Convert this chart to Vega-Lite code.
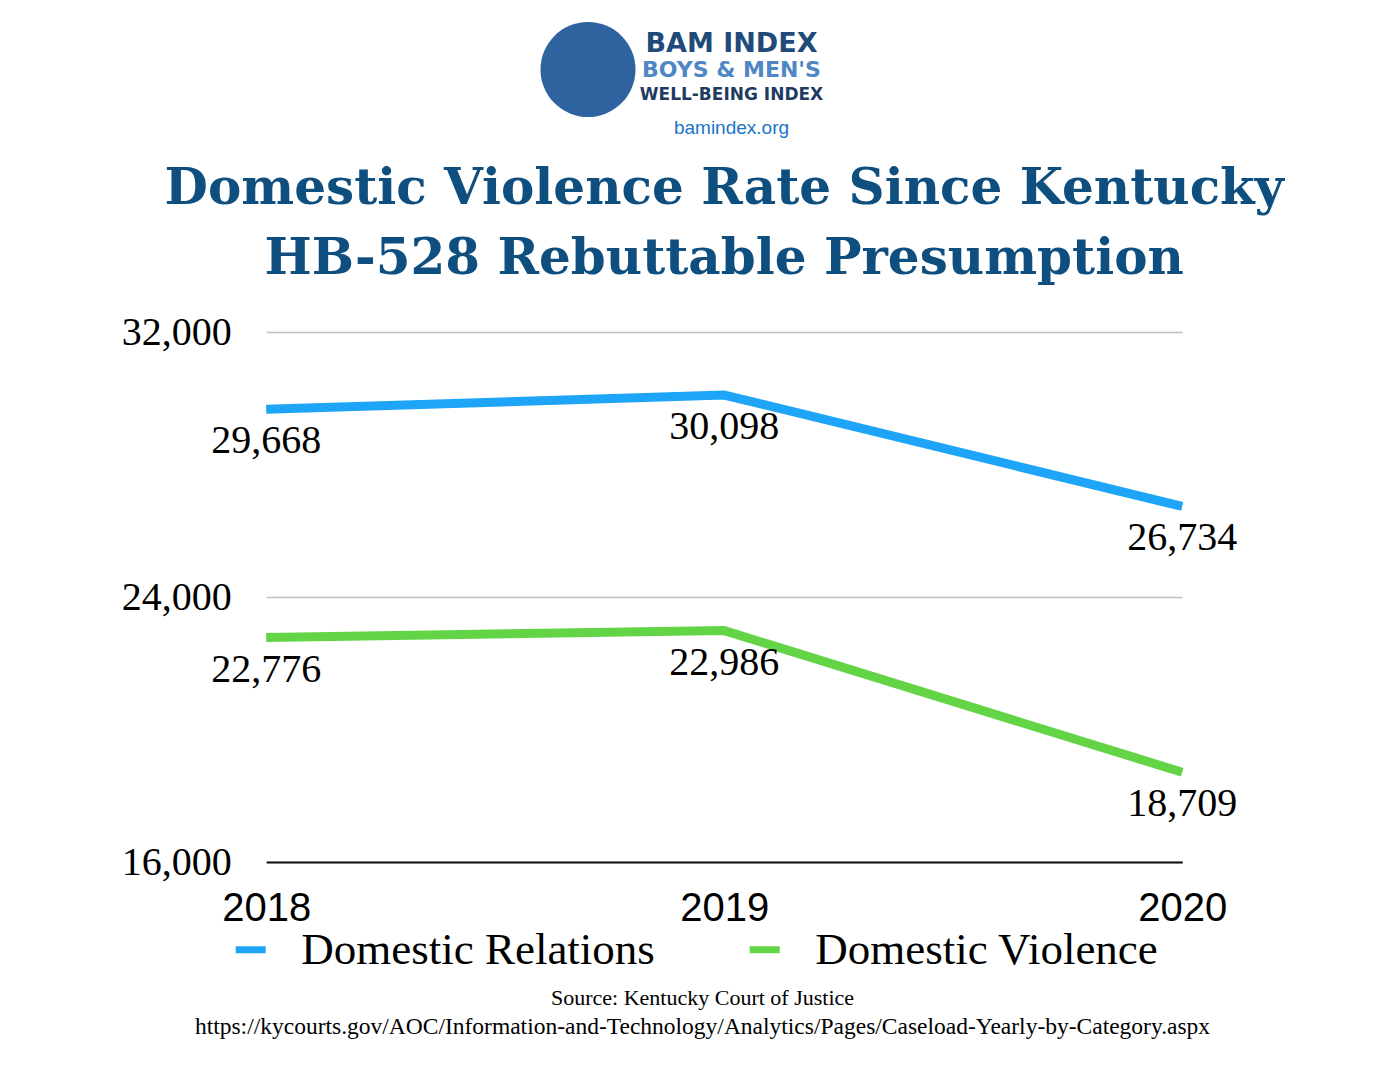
{
  "$schema": "https://vega.github.io/schema/vega-lite/v6.json",
  "background": "white",
  "padding": {"left": 121, "top": 22, "right": 5, "bottom": 5},
  "title": {
    "text": "Source: Kentucky Court of Justice",
    "subtitle": "https://kycourts.gov/AOC/Information-and-Technology/Analytics/Pages/Caseload-Yearly-by-Category.aspx",
    "orient": "bottom",
    "anchor": "middle",
    "font": "Liberation Serif",
    "fontSize": 22,
    "fontWeight": "normal",
    "color": "black",
    "subtitleFont": "Liberation Serif",
    "subtitleFontSize": 23.5,
    "subtitleColor": "black",
    "subtitlePadding": 5,
    "offset": 15
  },
  "center": true,
  "spacing": 26,
  "resolve": {
    "scale": {"x": "independent", "y": "independent", "color": "independent", "size": "independent"},
    "axis": {"x": "independent", "y": "independent"},
    "legend": {"color": "independent", "size": "independent"}
  },
  "vconcat": [
    {
      "spacing": 4,
      "resolve": {
        "scale": {"x": "independent", "y": "independent", "color": "independent", "size": "independent"},
        "legend": {"color": "independent", "size": "independent"}
      },
      "hconcat": [
        {
          "width": 95,
          "height": 95,
          "data": {"values": [{"logo": "BAM INDEX"}]},
          "mark": {"type": "circle", "size": 9025, "color": "#2f63a0", "opacity": 1},
          "encoding": {}
        },
        {
          "width": 180,
          "height": 95,
          "title": {
            "text": "bamindex.org",
            "orient": "bottom",
            "anchor": "middle",
            "font": "Liberation Sans",
            "fontSize": 19,
            "fontWeight": "normal",
            "color": "#1a74c8",
            "offset": 2
          },
          "data": {"values": [
            {"line": "BAM INDEX"},
            {"line": "BOYS & MEN'S"},
            {"line": "WELL-BEING INDEX"}
          ]},
          "mark": {"type": "text", "font": "DejaVu Sans", "fontWeight": "bold", "align": "center", "baseline": "middle"},
          "encoding": {
            "text": {"field": "line"},
            "y": {"field": "line", "type": "nominal", "sort": ["BAM INDEX", "BOYS & MEN'S", "WELL-BEING INDEX"], "axis": null, "scale": {"type": "point", "padding": 0.83}},
            "color": {"field": "line", "type": "nominal", "scale": {"domain": ["BAM INDEX", "BOYS & MEN'S", "WELL-BEING INDEX"], "range": ["#1f4a7a", "#4e86c6", "#1f3b60"]}, "legend": null},
            "size": {"field": "line", "type": "nominal", "scale": {"domain": ["BAM INDEX", "BOYS & MEN'S", "WELL-BEING INDEX"], "range": [27, 17, 14]}, "legend": null}
          }
        },
        {
          "width": 182,
          "height": 95,
          "data": {"values": [{"logo": "spacer"}]},
          "mark": {"type": "circle", "size": 1, "opacity": 0},
          "encoding": {}
        }
      ]
    },
    {
      "width": 916,
      "height": 530,
      "title": {
        "text": ["Domestic Violence Rate Since Kentucky", "HB-528 Rebuttable Presumption"],
        "font": "DejaVu Serif",
        "fontWeight": "bold",
        "fontSize": 50,
        "lineHeight": 70,
        "color": "#0f4f7f",
        "anchor": "middle",
        "offset": 28
      },
      "data": {"values": [
        {"year": "2018", "series": "Domestic Relations", "value": 29668},
        {"year": "2019", "series": "Domestic Relations", "value": 30098},
        {"year": "2020", "series": "Domestic Relations", "value": 26734},
        {"year": "2018", "series": "Domestic Violence", "value": 22776},
        {"year": "2019", "series": "Domestic Violence", "value": 22986},
        {"year": "2020", "series": "Domestic Violence", "value": 18709}
      ]},
      "encoding": {
        "x": {
          "field": "year", "type": "ordinal", "title": null,
          "scale": {"type": "point", "padding": 0},
          "axis": {"labelAngle": 0, "labelFont": "Liberation Sans", "labelFontSize": 40, "labelColor": "black", "ticks": false, "domain": true, "domainColor": "#111111", "domainWidth": 2, "labelPadding": 26, "grid": false}
        },
        "y": {
          "field": "value", "type": "quantitative", "title": null,
          "scale": {"domain": [16000, 32000], "nice": false, "zero": false},
          "axis": {"values": [16000, 24000, 32000], "labelExpr": "format(datum.value, ',')", "labelFont": "Liberation Serif", "labelFontSize": 40, "labelColor": "black", "ticks": false, "domain": false, "grid": true, "gridColor": "#c0c0c0", "gridWidth": 1.5, "labelPadding": 35}
        },
        "color": {
          "field": "series", "type": "nominal", "title": null,
          "scale": {"domain": ["Domestic Relations", "Domestic Violence"], "range": ["#1ea5f8", "#62d446"]},
          "legend": {
            "orient": "none", "direction": "horizontal", "legendX": -38, "legendY": 595,
            "symbolType": "stroke", "symbolSize": 900, "symbolStrokeWidth": 7,
            "labelFont": "Liberation Serif", "labelFontSize": 45, "labelColor": "black",
            "labelOffset": 28, "columnPadding": 80, "labelLimit": 600
          }
        }
      },
      "layer": [
        {"mark": {"type": "line", "strokeWidth": 9, "strokeCap": "butt"}},
        {"mark": {"type": "text", "font": "Liberation Serif", "fontSize": 40, "color": "black", "baseline": "middle", "dy": 32},
         "encoding": {"text": {"field": "value", "type": "quantitative", "format": ","}, "color": {"value": "black"}}}
      ]
    }
  ],
  "config": {"view": {"stroke": null}}
}
